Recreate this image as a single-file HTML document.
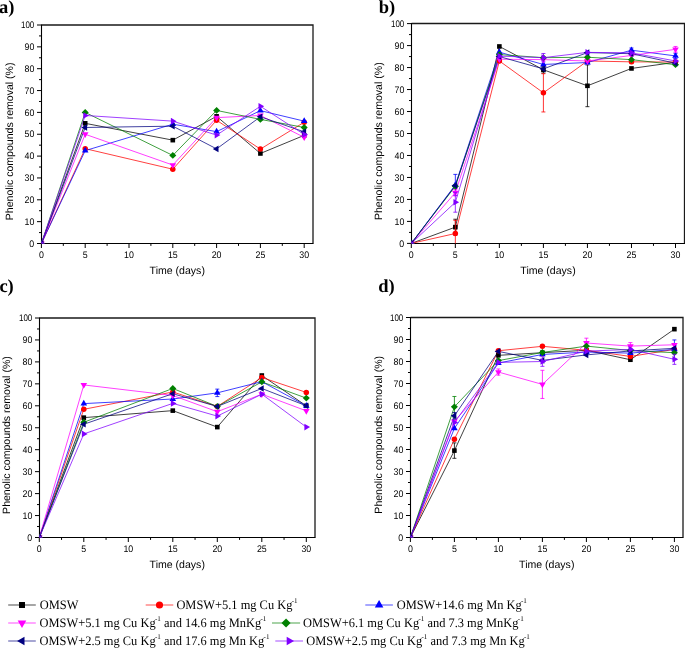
<!DOCTYPE html>
<html><head><meta charset="utf-8"><style>
html,body{margin:0;padding:0;background:#fff;}
svg{display:block;will-change:transform;}
text{text-rendering:geometricPrecision;}
.t{font-family:"Liberation Sans",sans-serif;font-size:9.5px;fill:#000;}
.ti{font-family:"Liberation Sans",sans-serif;font-size:10.56px;fill:#000;}
.pl{font-family:"Liberation Serif",serif;font-size:18.5px;font-weight:bold;fill:#000;}
.lg{font-family:"Liberation Serif",serif;font-size:13.0px;fill:#000;}
</style></head><body>
<svg width="685" height="648" viewBox="0 0 685 648">
<rect width="685" height="648" fill="#fff"/>
<path d="M41.5,25H313V243.5" stroke="#1a1a1a" stroke-width="1.3" fill="none"/>
<path d="M41.5,24.5V243.5H313.5" stroke="#000" stroke-width="1.1" fill="none"/>
<path d="M37,243.5H41.5M39,232.57H41.5M37,221.65H41.5M39,210.72H41.5M37,199.8H41.5M39,188.88H41.5M37,177.95H41.5M39,167.02H41.5M37,156.1H41.5M39,145.18H41.5M37,134.25H41.5M39,123.33H41.5M37,112.4H41.5M39,101.47H41.5M37,90.55H41.5M39,79.62H41.5M37,68.7H41.5M39,57.78H41.5M37,46.85H41.5M39,35.92H41.5M37,25H41.5M41.4,243.5V248M63.3,243.5V245.9M85.2,243.5V248M107.1,243.5V245.9M129,243.5V248M150.9,243.5V245.9M172.8,243.5V248M194.7,243.5V245.9M216.6,243.5V248M238.5,243.5V245.9M260.4,243.5V248M282.3,243.5V245.9M304.2,243.5V248" stroke="#000" stroke-width="1" fill="none"/>
<text transform="translate(34.3,246.6) scale(0.93,1)" text-anchor="end" class="t">0</text>
<text transform="translate(34.3,224.75) scale(0.93,1)" text-anchor="end" class="t">10</text>
<text transform="translate(34.3,202.9) scale(0.93,1)" text-anchor="end" class="t">20</text>
<text transform="translate(34.3,181.05) scale(0.93,1)" text-anchor="end" class="t">30</text>
<text transform="translate(34.3,159.2) scale(0.93,1)" text-anchor="end" class="t">40</text>
<text transform="translate(34.3,137.35) scale(0.93,1)" text-anchor="end" class="t">50</text>
<text transform="translate(34.3,115.5) scale(0.93,1)" text-anchor="end" class="t">60</text>
<text transform="translate(34.3,93.65) scale(0.93,1)" text-anchor="end" class="t">70</text>
<text transform="translate(34.3,71.8) scale(0.93,1)" text-anchor="end" class="t">80</text>
<text transform="translate(34.3,49.95) scale(0.93,1)" text-anchor="end" class="t">90</text>
<text transform="translate(34.3,28.1) scale(0.84,1)" text-anchor="end" class="t">100</text>
<text transform="translate(41.4,257.8) scale(0.93,1)" text-anchor="middle" class="t">0</text>
<text transform="translate(85.2,257.8) scale(0.93,1)" text-anchor="middle" class="t">5</text>
<text transform="translate(129,257.8) scale(0.93,1)" text-anchor="middle" class="t">10</text>
<text transform="translate(172.8,257.8) scale(0.93,1)" text-anchor="middle" class="t">15</text>
<text transform="translate(216.6,257.8) scale(0.93,1)" text-anchor="middle" class="t">20</text>
<text transform="translate(260.4,257.8) scale(0.93,1)" text-anchor="middle" class="t">25</text>
<text transform="translate(304.2,257.8) scale(0.93,1)" text-anchor="middle" class="t">30</text>
<text x="177.25" y="274" text-anchor="middle" class="ti">Time (days)</text>
<text transform="translate(12.7,141.35) rotate(-90)" text-anchor="middle" class="ti">Phenolic compounds removal (%)</text>
<text x="-1" y="12.6" class="pl">a)</text>
<clipPath id="cpa"><rect x="41.5" y="25" width="271.5" height="218.5"/></clipPath>
<g clip-path="url(#cpa)">
<polyline points="41.4,243.5 85.2,123.33 172.8,140.15 216.6,116.33 260.4,153.48 304.2,135.34" stroke="#000000" stroke-width="0.75" fill="none"/>
<polyline points="41.4,243.5 85.2,148.67 172.8,169.21 216.6,120.27 260.4,149.11 304.2,122.23" stroke="#ff0000" stroke-width="0.75" fill="none"/>
<polyline points="41.4,243.5 85.2,150.64 172.8,124.2 216.6,131.63 260.4,110.65 304.2,121.14" stroke="#0000ff" stroke-width="0.75" fill="none"/>
<polyline points="41.4,243.5 85.2,134.25 172.8,165.06 216.6,117.64 260.4,115.46 304.2,137.31" stroke="#ff00ff" stroke-width="0.75" fill="none"/>
<polyline points="41.4,243.5 85.2,112.4 172.8,155.44 216.6,110.43 260.4,119.39 304.2,127.48" stroke="#008000" stroke-width="0.75" fill="none"/>
<polyline points="41.4,243.5 85.2,127.48 172.8,126.17 216.6,148.89 260.4,116.77 304.2,131.85" stroke="#000080" stroke-width="0.75" fill="none"/>
<polyline points="41.4,243.5 85.2,115.46 172.8,121.14 216.6,135.12 260.4,106.28 304.2,134.47" stroke="#8000ff" stroke-width="0.75" fill="none"/>
<rect x="39.1" y="241.2" width="4.6" height="4.6" fill="#000000"/>
<rect x="82.9" y="121.03" width="4.6" height="4.6" fill="#000000"/>
<rect x="170.5" y="137.85" width="4.6" height="4.6" fill="#000000"/>
<rect x="214.3" y="114.03" width="4.6" height="4.6" fill="#000000"/>
<rect x="258.1" y="151.18" width="4.6" height="4.6" fill="#000000"/>
<rect x="301.9" y="133.04" width="4.6" height="4.6" fill="#000000"/>
<circle cx="41.4" cy="243.5" r="2.75" fill="#ff0000"/>
<circle cx="85.2" cy="148.67" r="2.75" fill="#ff0000"/>
<circle cx="172.8" cy="169.21" r="2.75" fill="#ff0000"/>
<circle cx="216.6" cy="120.27" r="2.75" fill="#ff0000"/>
<circle cx="260.4" cy="149.11" r="2.75" fill="#ff0000"/>
<circle cx="304.2" cy="122.23" r="2.75" fill="#ff0000"/>
<polygon points="41.4,239.7 44.7,245.4 38.1,245.4" fill="#0000ff"/>
<polygon points="85.2,146.84 88.5,152.54 81.9,152.54" fill="#0000ff"/>
<polygon points="172.8,120.4 176.1,126.1 169.5,126.1" fill="#0000ff"/>
<polygon points="216.6,127.83 219.9,133.53 213.3,133.53" fill="#0000ff"/>
<polygon points="260.4,106.85 263.7,112.55 257.1,112.55" fill="#0000ff"/>
<polygon points="304.2,117.34 307.5,123.04 300.9,123.04" fill="#0000ff"/>
<polygon points="41.4,247.3 44.7,241.6 38.1,241.6" fill="#ff00ff"/>
<polygon points="85.2,138.05 88.5,132.35 81.9,132.35" fill="#ff00ff"/>
<polygon points="172.8,168.86 176.1,163.16 169.5,163.16" fill="#ff00ff"/>
<polygon points="216.6,121.44 219.9,115.74 213.3,115.74" fill="#ff00ff"/>
<polygon points="260.4,119.26 263.7,113.56 257.1,113.56" fill="#ff00ff"/>
<polygon points="304.2,141.11 307.5,135.41 300.9,135.41" fill="#ff00ff"/>
<polygon points="41.4,240.1 44.9,243.5 41.4,246.9 37.9,243.5" fill="#008000"/>
<polygon points="85.2,109 88.7,112.4 85.2,115.8 81.7,112.4" fill="#008000"/>
<polygon points="172.8,152.04 176.3,155.44 172.8,158.84 169.3,155.44" fill="#008000"/>
<polygon points="216.6,107.03 220.1,110.43 216.6,113.83 213.1,110.43" fill="#008000"/>
<polygon points="260.4,115.99 263.9,119.39 260.4,122.79 256.9,119.39" fill="#008000"/>
<polygon points="304.2,124.08 307.7,127.48 304.2,130.88 300.7,127.48" fill="#008000"/>
<polygon points="37.6,243.5 43.3,240.2 43.3,246.8" fill="#000080"/>
<polygon points="81.4,127.48 87.1,124.18 87.1,130.78" fill="#000080"/>
<polygon points="169,126.17 174.7,122.87 174.7,129.47" fill="#000080"/>
<polygon points="212.8,148.89 218.5,145.59 218.5,152.19" fill="#000080"/>
<polygon points="256.6,116.77 262.3,113.47 262.3,120.07" fill="#000080"/>
<polygon points="300.4,131.85 306.1,128.55 306.1,135.15" fill="#000080"/>
<polygon points="45.2,243.5 39.5,240.2 39.5,246.8" fill="#8000ff"/>
<polygon points="89,115.46 83.3,112.16 83.3,118.76" fill="#8000ff"/>
<polygon points="176.6,121.14 170.9,117.84 170.9,124.44" fill="#8000ff"/>
<polygon points="220.4,135.12 214.7,131.82 214.7,138.42" fill="#8000ff"/>
<polygon points="264.2,106.28 258.5,102.98 258.5,109.58" fill="#8000ff"/>
<polygon points="308,134.47 302.3,131.17 302.3,137.77" fill="#8000ff"/>
</g>
<path d="M411.5,23.5H684.5V243.5" stroke="#1a1a1a" stroke-width="1.3" fill="none"/>
<path d="M411.5,23V243.5H685" stroke="#000" stroke-width="1.1" fill="none"/>
<path d="M407,243.4H411.5M409,232.41H411.5M407,221.42H411.5M409,210.43H411.5M407,199.44H411.5M409,188.45H411.5M407,177.46H411.5M409,166.47H411.5M407,155.48H411.5M409,144.49H411.5M407,133.5H411.5M409,122.51H411.5M407,111.52H411.5M409,100.53H411.5M407,89.54H411.5M409,78.55H411.5M407,67.56H411.5M409,56.57H411.5M407,45.58H411.5M409,34.59H411.5M407,23.6H411.5M411.3,243.5V248M433.32,243.5V245.9M455.33,243.5V248M477.35,243.5V245.9M499.37,243.5V248M521.38,243.5V245.9M543.4,243.5V248M565.42,243.5V245.9M587.43,243.5V248M609.45,243.5V245.9M631.47,243.5V248M653.48,243.5V245.9M675.5,243.5V248" stroke="#000" stroke-width="1" fill="none"/>
<text transform="translate(404.3,246.5) scale(0.93,1)" text-anchor="end" class="t">0</text>
<text transform="translate(404.3,224.52) scale(0.93,1)" text-anchor="end" class="t">10</text>
<text transform="translate(404.3,202.54) scale(0.93,1)" text-anchor="end" class="t">20</text>
<text transform="translate(404.3,180.56) scale(0.93,1)" text-anchor="end" class="t">30</text>
<text transform="translate(404.3,158.58) scale(0.93,1)" text-anchor="end" class="t">40</text>
<text transform="translate(404.3,136.6) scale(0.93,1)" text-anchor="end" class="t">50</text>
<text transform="translate(404.3,114.62) scale(0.93,1)" text-anchor="end" class="t">60</text>
<text transform="translate(404.3,92.64) scale(0.93,1)" text-anchor="end" class="t">70</text>
<text transform="translate(404.3,70.66) scale(0.93,1)" text-anchor="end" class="t">80</text>
<text transform="translate(404.3,48.68) scale(0.93,1)" text-anchor="end" class="t">90</text>
<text transform="translate(404.3,26.7) scale(0.84,1)" text-anchor="end" class="t">100</text>
<text transform="translate(411.3,257.8) scale(0.93,1)" text-anchor="middle" class="t">0</text>
<text transform="translate(455.33,257.8) scale(0.93,1)" text-anchor="middle" class="t">5</text>
<text transform="translate(499.37,257.8) scale(0.93,1)" text-anchor="middle" class="t">10</text>
<text transform="translate(543.4,257.8) scale(0.93,1)" text-anchor="middle" class="t">15</text>
<text transform="translate(587.43,257.8) scale(0.93,1)" text-anchor="middle" class="t">20</text>
<text transform="translate(631.47,257.8) scale(0.93,1)" text-anchor="middle" class="t">25</text>
<text transform="translate(675.5,257.8) scale(0.93,1)" text-anchor="middle" class="t">30</text>
<text x="548" y="274" text-anchor="middle" class="ti">Time (days)</text>
<text transform="translate(382.2,141.2) rotate(-90)" text-anchor="middle" class="ti">Phenolic compounds removal (%)</text>
<text x="378.7" y="12.6" class="pl">b)</text>
<clipPath id="cpb"><rect x="411.5" y="23.5" width="273" height="220"/></clipPath>
<g clip-path="url(#cpb)">
<polyline points="411.3,243.4 455.33,227.13 499.37,46.46 543.4,69.76 587.43,85.8 631.47,68.44 675.5,62.28" stroke="#000000" stroke-width="0.75" fill="none"/>
<polyline points="411.3,243.4 455.33,233.51 499.37,60.97 543.4,92.84 587.43,60.97 631.47,61.85 675.5,62.06" stroke="#ff0000" stroke-width="0.75" fill="none"/>
<polyline points="411.3,243.4 455.33,184.93 499.37,52.17 543.4,64.48 587.43,62.5 631.47,50.2 675.5,55.91" stroke="#0000ff" stroke-width="0.75" fill="none"/>
<polyline points="411.3,243.4 455.33,192.63 499.37,59.21 543.4,59.65 587.43,60.97 631.47,55.47 675.5,49.32" stroke="#ff00ff" stroke-width="0.75" fill="none"/>
<polyline points="411.3,243.4 455.33,186.25 499.37,54.59 543.4,57.67 587.43,57.23 631.47,59.65 675.5,64.7" stroke="#008000" stroke-width="0.75" fill="none"/>
<polyline points="411.3,243.4 455.33,185.59 499.37,56.57 543.4,68.88 587.43,52.61 631.47,53.71 675.5,63.16" stroke="#000080" stroke-width="0.75" fill="none"/>
<polyline points="411.3,243.4 455.33,202.3 499.37,56.13 543.4,57.67 587.43,52.39 631.47,52.83 675.5,60.97" stroke="#8000ff" stroke-width="0.75" fill="none"/>
<path d="M455.33,219.22V235.05M453.33,219.22H457.33M453.33,235.05H457.33" stroke="#000000" stroke-width="0.8" fill="none"/>
<path d="M543.4,66.46V73.06M541.4,66.46H545.4M541.4,73.06H545.4" stroke="#000000" stroke-width="0.8" fill="none"/>
<path d="M587.43,64.92V106.68M585.43,64.92H589.43M585.43,106.68H589.43" stroke="#000000" stroke-width="0.8" fill="none"/>
<rect x="409" y="241.1" width="4.6" height="4.6" fill="#000000"/>
<rect x="453.03" y="224.83" width="4.6" height="4.6" fill="#000000"/>
<rect x="497.07" y="44.16" width="4.6" height="4.6" fill="#000000"/>
<rect x="541.1" y="67.46" width="4.6" height="4.6" fill="#000000"/>
<rect x="585.13" y="83.5" width="4.6" height="4.6" fill="#000000"/>
<rect x="629.17" y="66.14" width="4.6" height="4.6" fill="#000000"/>
<rect x="673.2" y="59.98" width="4.6" height="4.6" fill="#000000"/>
<path d="M455.33,220.32V246.7M453.33,220.32H457.33M453.33,246.7H457.33" stroke="#ff0000" stroke-width="0.8" fill="none"/>
<path d="M543.4,73.71V111.96M541.4,73.71H545.4M541.4,111.96H545.4" stroke="#ff0000" stroke-width="0.8" fill="none"/>
<path d="M631.47,60.09V63.6M629.47,60.09H633.47M629.47,63.6H633.47" stroke="#ff0000" stroke-width="0.8" fill="none"/>
<circle cx="411.3" cy="243.4" r="2.75" fill="#ff0000"/>
<circle cx="455.33" cy="233.51" r="2.75" fill="#ff0000"/>
<circle cx="499.37" cy="60.97" r="2.75" fill="#ff0000"/>
<circle cx="543.4" cy="92.84" r="2.75" fill="#ff0000"/>
<circle cx="587.43" cy="60.97" r="2.75" fill="#ff0000"/>
<circle cx="631.47" cy="61.85" r="2.75" fill="#ff0000"/>
<circle cx="675.5" cy="62.06" r="2.75" fill="#ff0000"/>
<path d="M455.33,174.38V195.48M453.33,174.38H457.33M453.33,195.48H457.33" stroke="#0000ff" stroke-width="0.8" fill="none"/>
<path d="M631.47,48V52.39M629.47,48H633.47M629.47,52.39H633.47" stroke="#0000ff" stroke-width="0.8" fill="none"/>
<path d="M675.5,53.27V58.55M673.5,53.27H677.5M673.5,58.55H677.5" stroke="#0000ff" stroke-width="0.8" fill="none"/>
<polygon points="411.3,239.6 414.6,245.3 408,245.3" fill="#0000ff"/>
<polygon points="455.33,181.13 458.63,186.83 452.03,186.83" fill="#0000ff"/>
<polygon points="499.37,48.37 502.67,54.07 496.07,54.07" fill="#0000ff"/>
<polygon points="543.4,60.68 546.7,66.38 540.1,66.38" fill="#0000ff"/>
<polygon points="587.43,58.7 590.73,64.4 584.13,64.4" fill="#0000ff"/>
<polygon points="631.47,46.4 634.77,52.1 628.17,52.1" fill="#0000ff"/>
<polygon points="675.5,52.11 678.8,57.81 672.2,57.81" fill="#0000ff"/>
<path d="M455.33,189.33V195.92M453.33,189.33H457.33M453.33,195.92H457.33" stroke="#ff00ff" stroke-width="0.8" fill="none"/>
<path d="M675.5,46.46V52.17M673.5,46.46H677.5M673.5,52.17H677.5" stroke="#ff00ff" stroke-width="0.8" fill="none"/>
<polygon points="411.3,247.2 414.6,241.5 408,241.5" fill="#ff00ff"/>
<polygon points="455.33,196.43 458.63,190.73 452.03,190.73" fill="#ff00ff"/>
<polygon points="499.37,63.01 502.67,57.31 496.07,57.31" fill="#ff00ff"/>
<polygon points="543.4,63.45 546.7,57.75 540.1,57.75" fill="#ff00ff"/>
<polygon points="587.43,64.77 590.73,59.07 584.13,59.07" fill="#ff00ff"/>
<polygon points="631.47,59.27 634.77,53.57 628.17,53.57" fill="#ff00ff"/>
<polygon points="675.5,53.12 678.8,47.42 672.2,47.42" fill="#ff00ff"/>
<polygon points="411.3,240 414.8,243.4 411.3,246.8 407.8,243.4" fill="#008000"/>
<polygon points="455.33,182.85 458.83,186.25 455.33,189.65 451.83,186.25" fill="#008000"/>
<polygon points="499.37,51.19 502.87,54.59 499.37,57.99 495.87,54.59" fill="#008000"/>
<polygon points="543.4,54.27 546.9,57.67 543.4,61.07 539.9,57.67" fill="#008000"/>
<polygon points="587.43,53.83 590.93,57.23 587.43,60.63 583.93,57.23" fill="#008000"/>
<polygon points="631.47,56.25 634.97,59.65 631.47,63.05 627.97,59.65" fill="#008000"/>
<polygon points="675.5,61.3 679,64.7 675.5,68.1 672,64.7" fill="#008000"/>
<polygon points="407.5,243.4 413.2,240.1 413.2,246.7" fill="#000080"/>
<polygon points="451.53,185.59 457.23,182.29 457.23,188.89" fill="#000080"/>
<polygon points="495.57,56.57 501.27,53.27 501.27,59.87" fill="#000080"/>
<polygon points="539.6,68.88 545.3,65.58 545.3,72.18" fill="#000080"/>
<polygon points="583.63,52.61 589.33,49.31 589.33,55.91" fill="#000080"/>
<polygon points="627.67,53.71 633.37,50.41 633.37,57.01" fill="#000080"/>
<polygon points="671.7,63.16 677.4,59.86 677.4,66.46" fill="#000080"/>
<path d="M455.33,192.41V212.19M453.33,192.41H457.33M453.33,212.19H457.33" stroke="#8000ff" stroke-width="0.8" fill="none"/>
<path d="M543.4,53.49V61.85M541.4,53.49H545.4M541.4,61.85H545.4" stroke="#8000ff" stroke-width="0.8" fill="none"/>
<polygon points="415.1,243.4 409.4,240.1 409.4,246.7" fill="#8000ff"/>
<polygon points="459.13,202.3 453.43,199 453.43,205.6" fill="#8000ff"/>
<polygon points="503.17,56.13 497.47,52.83 497.47,59.43" fill="#8000ff"/>
<polygon points="547.2,57.67 541.5,54.37 541.5,60.97" fill="#8000ff"/>
<polygon points="591.23,52.39 585.53,49.09 585.53,55.69" fill="#8000ff"/>
<polygon points="635.27,52.83 629.57,49.53 629.57,56.13" fill="#8000ff"/>
<polygon points="679.3,60.97 673.6,57.67 673.6,64.27" fill="#8000ff"/>
</g>
<path d="M39.5,318H315V537.5" stroke="#1a1a1a" stroke-width="1.3" fill="none"/>
<path d="M39.5,317.5V537.5H315.5" stroke="#000" stroke-width="1.1" fill="none"/>
<path d="M35,537.5H39.5M37,526.52H39.5M35,515.55H39.5M37,504.57H39.5M35,493.6H39.5M37,482.62H39.5M35,471.65H39.5M37,460.68H39.5M35,449.7H39.5M37,438.73H39.5M35,427.75H39.5M37,416.77H39.5M35,405.8H39.5M37,394.83H39.5M35,383.85H39.5M37,372.88H39.5M35,361.9H39.5M37,350.93H39.5M35,339.95H39.5M37,328.98H39.5M35,318H39.5M39.3,537.5V542M61.55,537.5V539.9M83.8,537.5V542M106.05,537.5V539.9M128.3,537.5V542M150.55,537.5V539.9M172.8,537.5V542M195.05,537.5V539.9M217.3,537.5V542M239.55,537.5V539.9M261.8,537.5V542M284.05,537.5V539.9M306.3,537.5V542" stroke="#000" stroke-width="1" fill="none"/>
<text transform="translate(32.3,540.6) scale(0.93,1)" text-anchor="end" class="t">0</text>
<text transform="translate(32.3,518.65) scale(0.93,1)" text-anchor="end" class="t">10</text>
<text transform="translate(32.3,496.7) scale(0.93,1)" text-anchor="end" class="t">20</text>
<text transform="translate(32.3,474.75) scale(0.93,1)" text-anchor="end" class="t">30</text>
<text transform="translate(32.3,452.8) scale(0.93,1)" text-anchor="end" class="t">40</text>
<text transform="translate(32.3,430.85) scale(0.93,1)" text-anchor="end" class="t">50</text>
<text transform="translate(32.3,408.9) scale(0.93,1)" text-anchor="end" class="t">60</text>
<text transform="translate(32.3,386.95) scale(0.93,1)" text-anchor="end" class="t">70</text>
<text transform="translate(32.3,365) scale(0.93,1)" text-anchor="end" class="t">80</text>
<text transform="translate(32.3,343.05) scale(0.93,1)" text-anchor="end" class="t">90</text>
<text transform="translate(32.3,321.1) scale(0.84,1)" text-anchor="end" class="t">100</text>
<text transform="translate(39.3,551.8) scale(0.93,1)" text-anchor="middle" class="t">0</text>
<text transform="translate(83.8,551.8) scale(0.93,1)" text-anchor="middle" class="t">5</text>
<text transform="translate(128.3,551.8) scale(0.93,1)" text-anchor="middle" class="t">10</text>
<text transform="translate(172.8,551.8) scale(0.93,1)" text-anchor="middle" class="t">15</text>
<text transform="translate(217.3,551.8) scale(0.93,1)" text-anchor="middle" class="t">20</text>
<text transform="translate(261.8,551.8) scale(0.93,1)" text-anchor="middle" class="t">25</text>
<text transform="translate(306.3,551.8) scale(0.93,1)" text-anchor="middle" class="t">30</text>
<text x="177.25" y="568" text-anchor="middle" class="ti">Time (days)</text>
<text transform="translate(9.5,435.05) rotate(-90)" text-anchor="middle" class="ti">Phenolic compounds removal (%)</text>
<text x="-0.6" y="292" class="pl">c)</text>
<clipPath id="cpc"><rect x="39.5" y="318" width="275.5" height="219.5"/></clipPath>
<g clip-path="url(#cpc)">
<polyline points="39.3,537.5 83.8,417.65 172.8,410.63 217.3,427.09 261.8,375.51 306.3,405.8" stroke="#000000" stroke-width="0.75" fill="none"/>
<polyline points="39.3,537.5 83.8,409.31 172.8,391.97 217.3,406.46 261.8,377.48 306.3,392.41" stroke="#ff0000" stroke-width="0.75" fill="none"/>
<polyline points="39.3,537.5 83.8,403.61 172.8,399 217.3,392.85 261.8,381.65 306.3,405.8" stroke="#0000ff" stroke-width="0.75" fill="none"/>
<polyline points="39.3,537.5 83.8,384.95 172.8,395.48 217.3,411.73 261.8,394.17 306.3,410.85" stroke="#ff00ff" stroke-width="0.75" fill="none"/>
<polyline points="39.3,537.5 83.8,422.26 172.8,388.46 217.3,406.46 261.8,381.87 306.3,398.12" stroke="#008000" stroke-width="0.75" fill="none"/>
<polyline points="39.3,537.5 83.8,424.24 172.8,393.73 217.3,406.46 261.8,388.46 306.3,405.8" stroke="#000080" stroke-width="0.75" fill="none"/>
<polyline points="39.3,537.5 83.8,433.9 172.8,403.39 217.3,416.12 261.8,394.17 306.3,427.09" stroke="#8000ff" stroke-width="0.75" fill="none"/>
<rect x="37" y="535.2" width="4.6" height="4.6" fill="#000000"/>
<rect x="81.5" y="415.35" width="4.6" height="4.6" fill="#000000"/>
<rect x="170.5" y="408.33" width="4.6" height="4.6" fill="#000000"/>
<rect x="215" y="424.79" width="4.6" height="4.6" fill="#000000"/>
<rect x="259.5" y="373.21" width="4.6" height="4.6" fill="#000000"/>
<rect x="304" y="403.5" width="4.6" height="4.6" fill="#000000"/>
<circle cx="39.3" cy="537.5" r="2.75" fill="#ff0000"/>
<circle cx="83.8" cy="409.31" r="2.75" fill="#ff0000"/>
<circle cx="172.8" cy="391.97" r="2.75" fill="#ff0000"/>
<circle cx="217.3" cy="406.46" r="2.75" fill="#ff0000"/>
<circle cx="261.8" cy="377.48" r="2.75" fill="#ff0000"/>
<circle cx="306.3" cy="392.41" r="2.75" fill="#ff0000"/>
<path d="M217.3,389.12V396.58M215.3,389.12H219.3M215.3,396.58H219.3" stroke="#0000ff" stroke-width="0.8" fill="none"/>
<polygon points="39.3,533.7 42.6,539.4 36,539.4" fill="#0000ff"/>
<polygon points="83.8,399.81 87.1,405.5 80.5,405.5" fill="#0000ff"/>
<polygon points="172.8,395.2 176.1,400.9 169.5,400.9" fill="#0000ff"/>
<polygon points="217.3,389.05 220.6,394.75 214,394.75" fill="#0000ff"/>
<polygon points="261.8,377.85 265.1,383.55 258.5,383.55" fill="#0000ff"/>
<polygon points="306.3,402 309.6,407.7 303,407.7" fill="#0000ff"/>
<polygon points="39.3,541.3 42.6,535.6 36,535.6" fill="#ff00ff"/>
<polygon points="83.8,388.75 87.1,383.05 80.5,383.05" fill="#ff00ff"/>
<polygon points="172.8,399.28 176.1,393.58 169.5,393.58" fill="#ff00ff"/>
<polygon points="217.3,415.53 220.6,409.83 214,409.83" fill="#ff00ff"/>
<polygon points="261.8,397.97 265.1,392.27 258.5,392.27" fill="#ff00ff"/>
<polygon points="306.3,414.65 309.6,408.95 303,408.95" fill="#ff00ff"/>
<polygon points="39.3,534.1 42.8,537.5 39.3,540.9 35.8,537.5" fill="#008000"/>
<polygon points="83.8,418.86 87.3,422.26 83.8,425.66 80.3,422.26" fill="#008000"/>
<polygon points="172.8,385.06 176.3,388.46 172.8,391.86 169.3,388.46" fill="#008000"/>
<polygon points="217.3,403.06 220.8,406.46 217.3,409.86 213.8,406.46" fill="#008000"/>
<polygon points="261.8,378.47 265.3,381.87 261.8,385.27 258.3,381.87" fill="#008000"/>
<polygon points="306.3,394.72 309.8,398.12 306.3,401.52 302.8,398.12" fill="#008000"/>
<polygon points="35.5,537.5 41.2,534.2 41.2,540.8" fill="#000080"/>
<polygon points="80,424.24 85.7,420.94 85.7,427.54" fill="#000080"/>
<polygon points="169,393.73 174.7,390.43 174.7,397.03" fill="#000080"/>
<polygon points="213.5,406.46 219.2,403.16 219.2,409.76" fill="#000080"/>
<polygon points="258,388.46 263.7,385.16 263.7,391.76" fill="#000080"/>
<polygon points="302.5,405.8 308.2,402.5 308.2,409.1" fill="#000080"/>
<polygon points="43.1,537.5 37.4,534.2 37.4,540.8" fill="#8000ff"/>
<polygon points="87.6,433.9 81.9,430.6 81.9,437.2" fill="#8000ff"/>
<polygon points="176.6,403.39 170.9,400.09 170.9,406.69" fill="#8000ff"/>
<polygon points="221.1,416.12 215.4,412.82 215.4,419.42" fill="#8000ff"/>
<polygon points="265.6,394.17 259.9,390.87 259.9,397.47" fill="#8000ff"/>
<polygon points="310.1,427.09 304.4,423.79 304.4,430.39" fill="#8000ff"/>
</g>
<path d="M410.5,317.5H683V537.5" stroke="#1a1a1a" stroke-width="1.3" fill="none"/>
<path d="M410.5,317V537.5H683.5" stroke="#000" stroke-width="1.1" fill="none"/>
<path d="M406,537.5H410.5M408,526.5H410.5M406,515.5H410.5M408,504.5H410.5M406,493.5H410.5M408,482.5H410.5M406,471.5H410.5M408,460.5H410.5M406,449.5H410.5M408,438.5H410.5M406,427.5H410.5M408,416.5H410.5M406,405.5H410.5M408,394.5H410.5M406,383.5H410.5M408,372.5H410.5M406,361.5H410.5M408,350.5H410.5M406,339.5H410.5M408,328.5H410.5M406,317.5H410.5M410.4,537.5V542M432.4,537.5V539.9M454.4,537.5V542M476.4,537.5V539.9M498.4,537.5V542M520.4,537.5V539.9M542.4,537.5V542M564.4,537.5V539.9M586.4,537.5V542M608.4,537.5V539.9M630.4,537.5V542M652.4,537.5V539.9M674.4,537.5V542" stroke="#000" stroke-width="1" fill="none"/>
<text transform="translate(403.3,540.6) scale(0.93,1)" text-anchor="end" class="t">0</text>
<text transform="translate(403.3,518.6) scale(0.93,1)" text-anchor="end" class="t">10</text>
<text transform="translate(403.3,496.6) scale(0.93,1)" text-anchor="end" class="t">20</text>
<text transform="translate(403.3,474.6) scale(0.93,1)" text-anchor="end" class="t">30</text>
<text transform="translate(403.3,452.6) scale(0.93,1)" text-anchor="end" class="t">40</text>
<text transform="translate(403.3,430.6) scale(0.93,1)" text-anchor="end" class="t">50</text>
<text transform="translate(403.3,408.6) scale(0.93,1)" text-anchor="end" class="t">60</text>
<text transform="translate(403.3,386.6) scale(0.93,1)" text-anchor="end" class="t">70</text>
<text transform="translate(403.3,364.6) scale(0.93,1)" text-anchor="end" class="t">80</text>
<text transform="translate(403.3,342.6) scale(0.93,1)" text-anchor="end" class="t">90</text>
<text transform="translate(403.3,320.6) scale(0.84,1)" text-anchor="end" class="t">100</text>
<text transform="translate(410.4,551.8) scale(0.93,1)" text-anchor="middle" class="t">0</text>
<text transform="translate(454.4,551.8) scale(0.93,1)" text-anchor="middle" class="t">5</text>
<text transform="translate(498.4,551.8) scale(0.93,1)" text-anchor="middle" class="t">10</text>
<text transform="translate(542.4,551.8) scale(0.93,1)" text-anchor="middle" class="t">15</text>
<text transform="translate(586.4,551.8) scale(0.93,1)" text-anchor="middle" class="t">20</text>
<text transform="translate(630.4,551.8) scale(0.93,1)" text-anchor="middle" class="t">25</text>
<text transform="translate(674.4,551.8) scale(0.93,1)" text-anchor="middle" class="t">30</text>
<text x="546.75" y="568" text-anchor="middle" class="ti">Time (days)</text>
<text transform="translate(381.7,434.8) rotate(-90)" text-anchor="middle" class="ti">Phenolic compounds removal (%)</text>
<text x="378.3" y="291.8" class="pl">d)</text>
<clipPath id="cpd"><rect x="410.5" y="317.5" width="272.5" height="220"/></clipPath>
<g clip-path="url(#cpd)">
<polyline points="410.4,537.5 454.4,450.6 498.4,355.34 542.4,352.7 586.4,350.28 630.4,359.74 674.4,329.16" stroke="#000000" stroke-width="0.75" fill="none"/>
<polyline points="410.4,537.5 454.4,439.16 498.4,350.72 542.4,346.32 586.4,350.28 630.4,356.44 674.4,349.4" stroke="#ff0000" stroke-width="0.75" fill="none"/>
<polyline points="410.4,537.5 454.4,428.38 498.4,363.04 542.4,354.46 586.4,352.04 630.4,353.14 674.4,349.4" stroke="#0000ff" stroke-width="0.75" fill="none"/>
<polyline points="410.4,537.5 454.4,421.34 498.4,372.06 542.4,384.38 586.4,343.02 630.4,346.1 674.4,344.78" stroke="#ff00ff" stroke-width="0.75" fill="none"/>
<polyline points="410.4,537.5 454.4,406.82 498.4,360.62 542.4,352.48 586.4,346.1 630.4,350.5 674.4,352.7" stroke="#008000" stroke-width="0.75" fill="none"/>
<polyline points="410.4,537.5 454.4,415.84 498.4,351.38 542.4,360.4 586.4,354.9 630.4,350.94 674.4,348.3" stroke="#000080" stroke-width="0.75" fill="none"/>
<polyline points="410.4,537.5 454.4,422.44 498.4,362.38 542.4,361.5 586.4,351.16 630.4,349.4 674.4,359.3" stroke="#8000ff" stroke-width="0.75" fill="none"/>
<path d="M454.4,442.9V458.3M452.4,442.9H456.4M452.4,458.3H456.4" stroke="#000000" stroke-width="0.8" fill="none"/>
<rect x="408.1" y="535.2" width="4.6" height="4.6" fill="#000000"/>
<rect x="452.1" y="448.3" width="4.6" height="4.6" fill="#000000"/>
<rect x="496.1" y="353.04" width="4.6" height="4.6" fill="#000000"/>
<rect x="540.1" y="350.4" width="4.6" height="4.6" fill="#000000"/>
<rect x="584.1" y="347.98" width="4.6" height="4.6" fill="#000000"/>
<rect x="628.1" y="357.44" width="4.6" height="4.6" fill="#000000"/>
<rect x="672.1" y="326.86" width="4.6" height="4.6" fill="#000000"/>
<circle cx="410.4" cy="537.5" r="2.75" fill="#ff0000"/>
<circle cx="454.4" cy="439.16" r="2.75" fill="#ff0000"/>
<circle cx="498.4" cy="350.72" r="2.75" fill="#ff0000"/>
<circle cx="542.4" cy="346.32" r="2.75" fill="#ff0000"/>
<circle cx="586.4" cy="350.28" r="2.75" fill="#ff0000"/>
<circle cx="630.4" cy="356.44" r="2.75" fill="#ff0000"/>
<circle cx="674.4" cy="349.4" r="2.75" fill="#ff0000"/>
<path d="M674.4,339.94V358.86M672.4,339.94H676.4M672.4,358.86H676.4" stroke="#0000ff" stroke-width="0.8" fill="none"/>
<polygon points="410.4,533.7 413.7,539.4 407.1,539.4" fill="#0000ff"/>
<polygon points="454.4,424.58 457.7,430.28 451.1,430.28" fill="#0000ff"/>
<polygon points="498.4,359.24 501.7,364.94 495.1,364.94" fill="#0000ff"/>
<polygon points="542.4,350.66 545.7,356.36 539.1,356.36" fill="#0000ff"/>
<polygon points="586.4,348.24 589.7,353.94 583.1,353.94" fill="#0000ff"/>
<polygon points="630.4,349.34 633.7,355.04 627.1,355.04" fill="#0000ff"/>
<polygon points="674.4,345.6 677.7,351.3 671.1,351.3" fill="#0000ff"/>
<path d="M498.4,368.98V375.14M496.4,368.98H500.4M496.4,375.14H500.4" stroke="#ff00ff" stroke-width="0.8" fill="none"/>
<path d="M542.4,370.3V398.46M540.4,370.3H544.4M540.4,398.46H544.4" stroke="#ff00ff" stroke-width="0.8" fill="none"/>
<path d="M586.4,338.18V347.86M584.4,338.18H588.4M584.4,347.86H588.4" stroke="#ff00ff" stroke-width="0.8" fill="none"/>
<path d="M630.4,342.58V349.62M628.4,342.58H632.4M628.4,349.62H632.4" stroke="#ff00ff" stroke-width="0.8" fill="none"/>
<polygon points="410.4,541.3 413.7,535.6 407.1,535.6" fill="#ff00ff"/>
<polygon points="454.4,425.14 457.7,419.44 451.1,419.44" fill="#ff00ff"/>
<polygon points="498.4,375.86 501.7,370.16 495.1,370.16" fill="#ff00ff"/>
<polygon points="542.4,388.18 545.7,382.48 539.1,382.48" fill="#ff00ff"/>
<polygon points="586.4,346.82 589.7,341.12 583.1,341.12" fill="#ff00ff"/>
<polygon points="630.4,349.9 633.7,344.2 627.1,344.2" fill="#ff00ff"/>
<polygon points="674.4,348.58 677.7,342.88 671.1,342.88" fill="#ff00ff"/>
<path d="M454.4,396.48V417.16M452.4,396.48H456.4M452.4,417.16H456.4" stroke="#008000" stroke-width="0.8" fill="none"/>
<polygon points="410.4,534.1 413.9,537.5 410.4,540.9 406.9,537.5" fill="#008000"/>
<polygon points="454.4,403.42 457.9,406.82 454.4,410.22 450.9,406.82" fill="#008000"/>
<polygon points="498.4,357.22 501.9,360.62 498.4,364.02 494.9,360.62" fill="#008000"/>
<polygon points="542.4,349.08 545.9,352.48 542.4,355.88 538.9,352.48" fill="#008000"/>
<polygon points="586.4,342.7 589.9,346.1 586.4,349.5 582.9,346.1" fill="#008000"/>
<polygon points="630.4,347.1 633.9,350.5 630.4,353.9 626.9,350.5" fill="#008000"/>
<polygon points="674.4,349.3 677.9,352.7 674.4,356.1 670.9,352.7" fill="#008000"/>
<path d="M454.4,412.54V419.14M452.4,412.54H456.4M452.4,419.14H456.4" stroke="#000080" stroke-width="0.8" fill="none"/>
<polygon points="406.6,537.5 412.3,534.2 412.3,540.8" fill="#000080"/>
<polygon points="450.6,415.84 456.3,412.54 456.3,419.14" fill="#000080"/>
<polygon points="494.6,351.38 500.3,348.08 500.3,354.68" fill="#000080"/>
<polygon points="538.6,360.4 544.3,357.1 544.3,363.7" fill="#000080"/>
<polygon points="582.6,354.9 588.3,351.6 588.3,358.2" fill="#000080"/>
<polygon points="626.6,350.94 632.3,347.64 632.3,354.24" fill="#000080"/>
<polygon points="670.6,348.3 676.3,345 676.3,351.6" fill="#000080"/>
<path d="M542.4,356.66V366.34M540.4,356.66H544.4M540.4,366.34H544.4" stroke="#8000ff" stroke-width="0.8" fill="none"/>
<path d="M674.4,354.24V364.36M672.4,354.24H676.4M672.4,364.36H676.4" stroke="#8000ff" stroke-width="0.8" fill="none"/>
<polygon points="414.2,537.5 408.5,534.2 408.5,540.8" fill="#8000ff"/>
<polygon points="458.2,422.44 452.5,419.14 452.5,425.74" fill="#8000ff"/>
<polygon points="502.2,362.38 496.5,359.08 496.5,365.68" fill="#8000ff"/>
<polygon points="546.2,361.5 540.5,358.2 540.5,364.8" fill="#8000ff"/>
<polygon points="590.2,351.16 584.5,347.86 584.5,354.46" fill="#8000ff"/>
<polygon points="634.2,349.4 628.5,346.1 628.5,352.7" fill="#8000ff"/>
<polygon points="678.2,359.3 672.5,356 672.5,362.6" fill="#8000ff"/>
</g>
<line x1="8.2" y1="605" x2="35.8" y2="605" stroke="#000000" stroke-width="0.7"/>
<rect x="19.01" y="602.01" width="5.98" height="5.98" fill="#000000"/>
<text transform="translate(39.8,609.1) scale(0.955,1)" class="lg">OMSW</text>
<line x1="145.7" y1="605" x2="173.3" y2="605" stroke="#ff0000" stroke-width="0.7"/>
<circle cx="159.5" cy="605" r="3.58" fill="#ff0000"/>
<text transform="translate(176.4,609.1) scale(0.955,1)" class="lg">OMSW+5.1 mg Cu Kg<tspan dx="-0.7" dy="-6.6" font-size="7.4">-1</tspan></text>
<line x1="365.3" y1="605" x2="392.9" y2="605" stroke="#0000ff" stroke-width="0.7"/>
<polygon points="379.1,600.06 383.39,607.47 374.81,607.47" fill="#0000ff"/>
<text transform="translate(396.7,609.1) scale(0.955,1)" class="lg">OMSW+14.6 mg Mn Kg<tspan dx="-0.7" dy="-6.6" font-size="7.4">-1</tspan></text>
<line x1="8.2" y1="623" x2="35.8" y2="623" stroke="#ff00ff" stroke-width="0.7"/>
<polygon points="22,627.94 26.29,620.53 17.71,620.53" fill="#ff00ff"/>
<text transform="translate(39.6,627.1) scale(0.955,1)" class="lg">OMSW+5.1 mg Cu Kg<tspan dx="-0.7" dy="-6.6" font-size="7.4">-1</tspan><tspan dy="6.6"> and 14.6 mg MnKg</tspan><tspan dx="-0.7" dy="-6.6" font-size="7.4">-1</tspan></text>
<line x1="272" y1="623" x2="300.1" y2="623" stroke="#008000" stroke-width="0.7"/>
<polygon points="286.05,618.58 290.6,623 286.05,627.42 281.5,623" fill="#008000"/>
<text transform="translate(303.1,627.1) scale(0.955,1)" class="lg">OMSW+6.1 mg Cu Kg<tspan dx="-0.7" dy="-6.6" font-size="7.4">-1</tspan><tspan dy="6.6"> and 7.3 mg MnKg</tspan><tspan dx="-0.7" dy="-6.6" font-size="7.4">-1</tspan></text>
<line x1="8.2" y1="641" x2="35.8" y2="641" stroke="#000080" stroke-width="0.7"/>
<polygon points="17.06,641 24.47,636.71 24.47,645.29" fill="#000080"/>
<text transform="translate(39.6,645.1) scale(0.955,1)" class="lg">OMSW+2.5 mg Cu Kg<tspan dx="-0.7" dy="-6.6" font-size="7.4">-1</tspan><tspan dy="6.6"> and 17.6 mg Mn Kg</tspan><tspan dx="-0.7" dy="-6.6" font-size="7.4">-1</tspan></text>
<line x1="275.3" y1="641" x2="303" y2="641" stroke="#8000ff" stroke-width="0.7"/>
<polygon points="294.09,641 286.68,636.71 286.68,645.29" fill="#8000ff"/>
<text transform="translate(306.2,645.1) scale(0.955,1)" class="lg">OMSW+2.5 mg Cu Kg<tspan dx="-0.7" dy="-6.6" font-size="7.4">-1</tspan><tspan dy="6.6"> and 7.3 mg Mn Kg</tspan><tspan dx="-0.7" dy="-6.6" font-size="7.4">-1</tspan></text>
</svg>
</body></html>
